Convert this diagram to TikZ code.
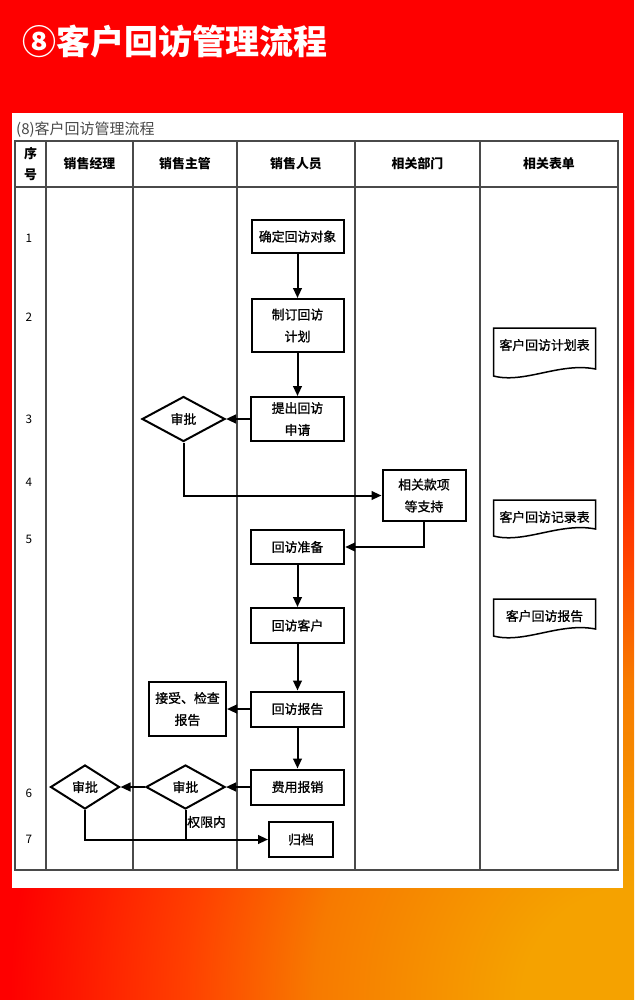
\documentclass[tikz,border=0pt]{standalone}
\usepackage{fontspec}
\setmainfont{Noto Sans CJK SC}
\newfontfamily\boxfont[FakeBold=1]{Noto Sans CJK SC}
\usetikzlibrary{shapes.geometric,arrows.meta}
\definecolor{bgred}{HTML}{FE0000}
\definecolor{bgdeep}{HTML}{FF4000}
\definecolor{bgmid}{HTML}{F77A00}
\definecolor{bgorange}{HTML}{F5A200}
\definecolor{gridgray}{HTML}{4A4A4A}
\pgfdeclareradialshading{bgglow}{\pgfpointorigin}{color(0bp)=(bgorange); color(3.5bp)=(bgorange); color(10bp)=(bgmid); color(14bp)=(bgdeep); color(19.5bp)=(bgred); color(50bp)=(bgred)}
% form sheet with a wavy lower edge: name, x, text y, side height, text
\newcommand{\formsheet}[5]{%
	\node[doc] (#1) at (#2,#3) {#5};
	\draw[sheet] ({#2-51},{#3-17}) -- ({#2+51},{#3-17}) -- ({#2+51},{#3-24+#4})
		.. controls ({#2+15},{#3-31+#4}) and ({#2-20},{#3-9+#4}) .. ({#2-51},{#3-17+#4}) -- cycle;
}

\begin{document}
\begin{tikzpicture}[x=0.3mm, y=-0.3mm,
	box/.style={draw, line width=0.6mm, inner sep=0pt, align=center, font=\boxfont\fontsize{11}{18.7}\selectfont, minimum width=28mm, minimum height=10.5mm},
	check/.style={draw, diamond, aspect=1.8, line width=0.6mm, inner sep=0pt, font=\boxfont\fontsize{11}{13}\selectfont},
	doc/.style={inner sep=0pt, font=\boxfont\fontsize{11}{13}\selectfont},
	sheet/.style={line width=0.45mm},
	flow/.style={line width=0.6mm, -{Triangle[length=3mm, width=2.6mm]}},
	link/.style={line width=0.6mm},
	grid/.style={gridgray, line width=0.4mm},
	hd/.style={font=\bfseries\fontsize{11}{18.7}\selectfont, align=center},
	num/.style={font=\fontsize{10}{12}\selectfont}]
	\useasboundingbox (0,0) rectangle (634,1000);
	\fill[bgred] (0,0) rectangle (634,1000);
	\begin{scope}
		\clip (0,0) rectangle (634,1000);
		\shade[shading=bgglow] (634,1000) circle (800);
	\end{scope}
	\fill[white] (12,113) rectangle (623,888);
	\node[anchor=west, text=white, font=\bfseries\fontsize{29}{32}\selectfont] (ttl) at (18,42) {⑧客户回访管理流程};
	\node[anchor=west, text=gridgray, font=\fontsize{12.8}{14}\selectfont, inner sep=0pt] (cap) at (16,130) {(8)客户回访管理流程};
	% table
	\draw[grid] (15,141) rectangle (618,870);
	\draw[grid] (15,187) -- (618,187);
	\foreach \x in {46,133,237,355,480}
		\draw[grid] (\x,141) -- (\x,870);
	\node[hd] (h0) at (30.5,164) {序\\号};
	\node[hd] (h1) at (89.5,164) {销售经理};
	\node[hd] (h2) at (185,164) {销售主管};
	\node[hd] (h3) at (296,164) {销售人员};
	\node[hd] (h4) at (417.5,164) {相关部门};
	\node[hd] (h5) at (549,164) {相关表单};
	\foreach \n/\y in {1/238,2/317,3/419,4/482,5/539,6/793,7/839}
		\node[num] (r\n) at (29,\y) {\n};
	% steps
	\node[box, minimum width=27.6mm, minimum height=9.9mm] (a1) at (297.5,236.5) {确定回访对象};
	\node[box, minimum width=27.6mm, minimum height=15.9mm] (a2) at (297.5,325.5) {制订回访\\计划};
	\node[box, minimum height=13.2mm] (a3) at (297.5,419) {提出回访\\申请};
	\node[check, minimum width=24.9mm, minimum height=13.5mm] (c1) at (183.5,419) {审批};
	\node[box, minimum width=24.9mm, minimum height=15.3mm] (k) at (424,495.5) {相关款项\\等支持};
	\node[box, minimum height=10.2mm] (prep) at (297.5,547) {回访准备};
	\node[box] (visit) at (297.5,625.5) {回访客户};
	\node[box] (rep) at (297.5,709) {回访报告};
	\node[box, minimum width=23.1mm, minimum height=16.2mm] (chk) at (187.5,709) {接受、检查\\报告};
	\node[box] (fee) at (297.5,787) {费用报销};
	\node[check, minimum width=23.7mm, minimum height=13.2mm] (c2) at (185.5,787) {审批};
	\node[check, minimum width=20.7mm, minimum height=13.2mm] (c3) at (85,787) {审批};
	\node[box, minimum width=19.2mm] (arc) at (301,839.5) {归档};
	\node[doc, anchor=west] (lim) at (187,822) {权限内};
	% forms
	\formsheet{f1}{544.5}{345}{48}{客户回访计划表}
	\formsheet{f2}{544.5}{517}{36}{客户回访记录表}
	\formsheet{f3}{544.5}{616}{37}{客户回访报告}
	% connectors
	\draw[flow] (a1) -- (a2);
	\draw[flow] (a2) -- (a3);
	\draw[flow] (a3) -- (c1);
	\draw[flow] (c1.south) |- (k.west);
	\draw[flow] (k.south) |- (prep.east);
	\draw[flow] (prep) -- (visit);
	\draw[flow] (visit) -- (rep);
	\draw[flow] (rep) -- (chk);
	\draw[flow] (rep) -- (fee);
	\draw[flow] (fee) -- (c2);
	\draw[flow] (c2) -- (c3);
	\draw[flow] (c3.south) |- (arc.west);
	\draw[link] (c2.south) -- (c2.south |- arc.west);
\end{tikzpicture}
\end{document}
